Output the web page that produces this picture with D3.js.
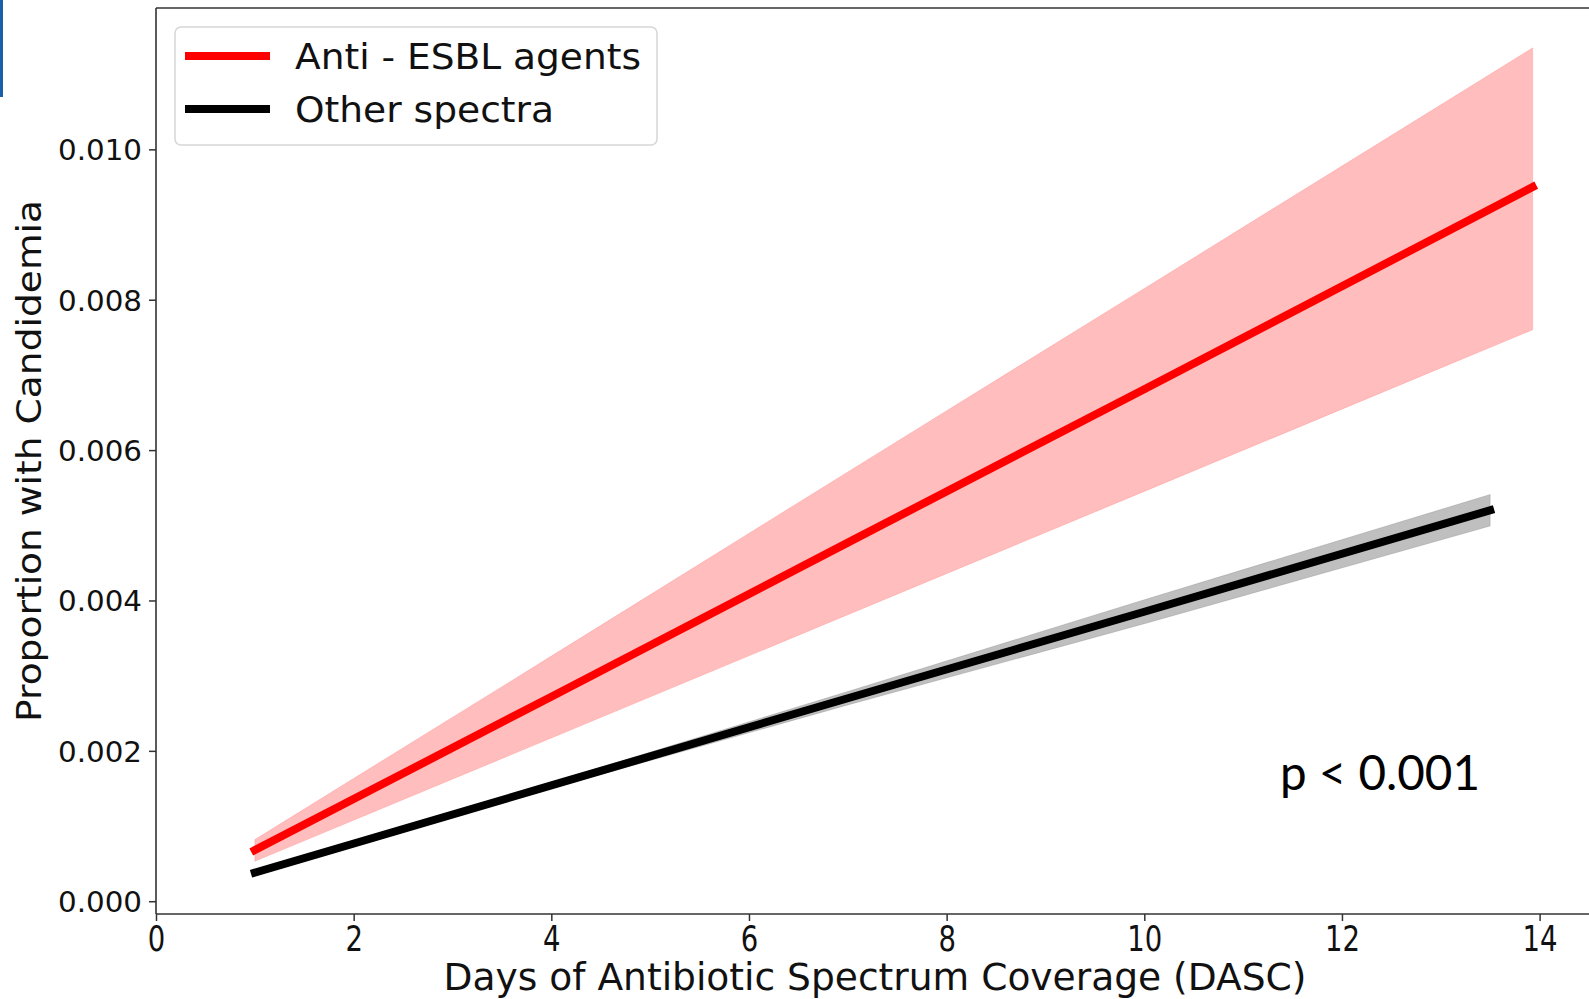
<!DOCTYPE html>
<html>
<head>
<meta charset="utf-8">
<script src="https://cdn.jsdelivr.net/npm/d3@7"></script>
<style>
  html, body { margin: 0; padding: 0; background: #fff; }
  svg { display: block; }
</style>
</head>
<body>
<svg id="chart" width="1589" height="999"></svg>
<script>
// Model estimates of candidemia proportion by days of spectrum coverage
const esblDays  = [1, 4, 7, 10, 13.93];
const esblMean  = [0.00068, 0.00272, 0.00477, 0.00681, 0.00950];
const esblUpper = [0.00082, 0.00326, 0.00571, 0.00815, 0.01135];
const esblLower = [0.00053, 0.00217, 0.00381, 0.00545, 0.00760];

const otherDays  = [1, 4, 7, 10, 13.5];
const otherMean  = [0.00038, 0.00154, 0.00270, 0.00385, 0.00520];
const otherUpper = [0.00039, 0.00158, 0.00279, 0.00401, 0.00541];
const otherLower = [0.00037, 0.00150, 0.00261, 0.00369, 0.00499];

const xTicks = [0, 2, 4, 6, 8, 10, 12, 14];
const yTicks = [0, 0.002, 0.004, 0.006, 0.008, 0.010];

const seriesNames = ["Anti - ESBL agents", "Other spectra"];
const seriesColors = ["#ff0000", "#000000"];
const xTitle = "Days of Antibiotic Spectrum Coverage (DASC)";
const yTitle = "Proportion with Candidemia";
const pText = "p < 0.001";

const svg = d3.select("#chart");
const frame = { left: 156, top: 8, bottom: 914, right: 1591 };

const x = d3.scaleLinear().domain([0, 14.52]).range([frame.left, frame.right]);
const y = d3.scaleLinear().domain([-0.00017, 0.01188]).range([frame.bottom, frame.top]);

// side accent bar
svg.append("rect").attr("x", 0).attr("y", 0).attr("width", 3).attr("height", 97).attr("fill", "#1c5fa9");

const plot = svg.append("g");
svg.append("clipPath").attr("id", "plotclip")
  .append("rect").attr("x", frame.left).attr("y", frame.top)
  .attr("width", frame.right - frame.left).attr("height", frame.bottom - frame.top);
plot.attr("clip-path", "url(#plotclip)");

function band(days, lo, hi) {
  return d3.area().x((d, i) => x(days[i])).y0((d, i) => y(lo[i])).y1((d, i) => y(hi[i]))(days);
}
function line(days, vals) {
  return d3.line().x((d, i) => x(days[i])).y((d, i) => y(vals[i]))(days);
}

// confidence bands
plot.append("path").attr("d", band(esblDays, esblLower, esblUpper))
  .attr("fill", "rgba(255,0,0,0.26)").attr("stroke", "rgba(255,0,0,0.12)").attr("stroke-width", 1);
plot.append("path").attr("d", band(otherDays, otherLower, otherUpper))
  .attr("fill", "rgba(0,0,0,0.25)").attr("stroke", "rgba(0,0,0,0.12)").attr("stroke-width", 1);

// fitted lines
plot.append("path").attr("d", line(otherDays, otherMean))
  .attr("fill", "none").attr("stroke", seriesColors[1]).attr("stroke-width", 8)
  .attr("stroke-linecap", "square");
plot.append("path").attr("d", line(esblDays, esblMean))
  .attr("fill", "none").attr("stroke", seriesColors[0]).attr("stroke-width", 8)
  .attr("stroke-linecap", "square");

// axes
const axisFont = "DejaVu Sans";
const xAxis = svg.append("g").attr("transform", `translate(0,${frame.bottom})`)
  .call(d3.axisBottom(x).tickValues(xTicks).tickSize(7).tickSizeOuter(0).tickFormat(d3.format("d")));
xAxis.select(".domain").remove();
xAxis.selectAll(".tick line").attr("stroke", "#333").attr("stroke-width", 1.5);
xAxis.selectAll(".tick text")
  .attr("font-family", axisFont).attr("font-size", 35).attr("fill", "#111")
  .attr("y", 37).attr("dy", 0)
  .attr("textLength", d => String(d).length * 17.5).attr("lengthAdjust", "spacingAndGlyphs");

const yAxis = svg.append("g").attr("transform", `translate(${frame.left},0)`)
  .call(d3.axisLeft(y).tickValues(yTicks).tickSize(7).tickSizeOuter(0).tickFormat(d3.format(".3f")));
yAxis.select(".domain").remove();
yAxis.selectAll(".tick line").attr("stroke", "#333").attr("stroke-width", 1.5);
yAxis.selectAll(".tick text")
  .attr("font-family", axisFont).attr("font-size", 29).attr("fill", "#111")
  .attr("x", -14).attr("dy", "0.36em")
  .attr("textLength", 84).attr("lengthAdjust", "spacingAndGlyphs");

// spines
svg.append("line").attr("x1", frame.left).attr("x2", frame.left).attr("y1", frame.top).attr("y2", frame.bottom)
  .attr("stroke", "#333").attr("stroke-width", 1.6);
svg.append("line").attr("x1", frame.left).attr("x2", frame.right).attr("y1", frame.bottom).attr("y2", frame.bottom)
  .attr("stroke", "#333").attr("stroke-width", 1.6);
svg.append("line").attr("x1", frame.left).attr("x2", frame.right).attr("y1", frame.top).attr("y2", frame.top)
  .attr("stroke", "#333").attr("stroke-width", 1.6);

// axis titles
svg.append("text").attr("x", 875).attr("y", 990).attr("text-anchor", "middle")
  .attr("font-family", axisFont).attr("font-size", 37).attr("fill", "#111")
  .attr("textLength", 863).attr("lengthAdjust", "spacingAndGlyphs").text(xTitle);
svg.append("text").attr("transform", "translate(41,461) rotate(-90)").attr("text-anchor", "middle")
  .attr("font-family", axisFont).attr("font-size", 33).attr("fill", "#111")
  .attr("textLength", 522).attr("lengthAdjust", "spacingAndGlyphs").text(yTitle);

// legend
const legend = svg.append("g");
legend.append("rect").attr("x", 175).attr("y", 27).attr("width", 482).attr("height", 118)
  .attr("rx", 6).attr("fill", "rgba(255,255,255,0.85)").attr("stroke", "#d6d6d6").attr("stroke-width", 1.5);
const legendRows = [56, 109];
seriesNames.forEach((name, i) => {
  legend.append("line").attr("x1", 185).attr("x2", 270).attr("y1", legendRows[i]).attr("y2", legendRows[i])
    .attr("stroke", seriesColors[i]).attr("stroke-width", 8);
  legend.append("text").attr("x", 295).attr("y", legendRows[i] + 13)
    .attr("font-family", axisFont).attr("font-size", 36).attr("fill", "#111")
    .attr("textLength", i === 0 ? 346 : 259).attr("lengthAdjust", "spacingAndGlyphs").text(name);
});

// significance note
svg.append("text").attr("x", 1280).attr("y", 790)
  .attr("font-family", "Lato").attr("font-size", 48).attr("fill", "#000")
  .attr("textLength", 200).attr("lengthAdjust", "spacingAndGlyphs").text(pText);
</script>
</body>
</html>
